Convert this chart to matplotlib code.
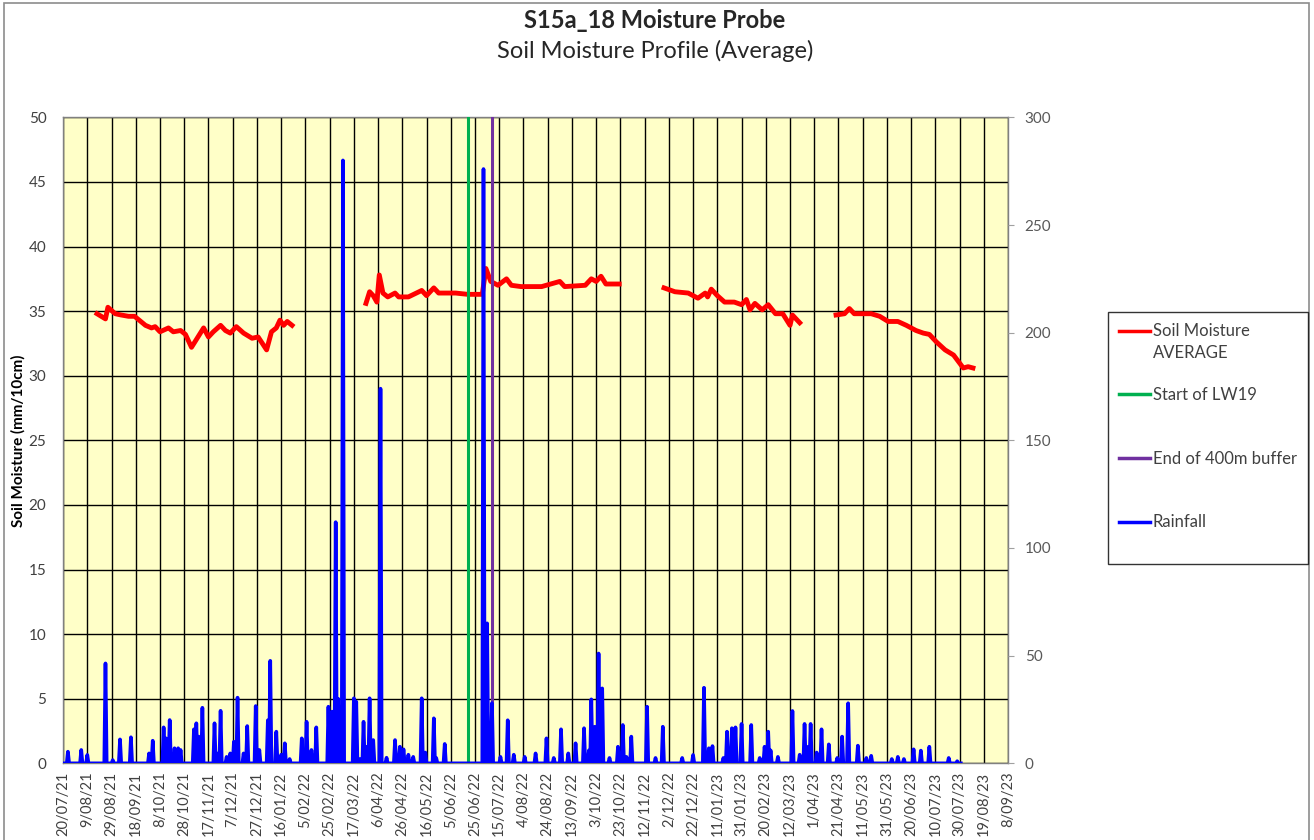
import pandas as pd
import matplotlib
matplotlib.use('Agg')
import matplotlib.pyplot as plt
from matplotlib.lines import Line2D
from matplotlib.patches import Rectangle
from matplotlib.legend_handler import HandlerLine2D
from matplotlib.transforms import Affine2D

plt.rcParams['font.family'] = ['Lato', 'DejaVu Sans']

START, END = '2021-07-20', '2023-09-08'
RAIN_END = '2023-07-31'
LW19_START = '2022-06-19'
BUFFER_END = '2022-07-09'

# soil moisture average (mm/10cm), four logging runs with gaps between
sm_dates_1 = ['2021-08-17', '2021-08-24', '2021-08-26', '2021-09-01', '2021-09-06', '2021-09-12',
              '2021-09-17', '2021-09-26', '2021-10-01', '2021-10-04', '2021-10-08', '2021-10-15',
              '2021-10-19', '2021-10-25', '2021-10-29', '2021-11-03', '2021-11-07', '2021-11-13',
              '2021-11-17', '2021-11-21', '2021-11-27', '2021-12-01', '2021-12-05', '2021-12-10',
              '2021-12-16', '2021-12-23', '2021-12-28', '2022-01-04', '2022-01-08', '2022-01-12',
              '2022-01-15', '2022-01-18', '2022-01-21', '2022-01-25']
sm_vals_1 = [34.8, 34.4, 35.3, 34.8, 34.7, 34.6, 34.6, 33.9, 33.7, 33.8, 33.4, 33.7,
             33.4, 33.5, 33.2, 32.2, 32.8, 33.7, 33.0, 33.4, 33.9, 33.5, 33.3, 33.8,
             33.3, 32.9, 33.0, 32.0, 33.4, 33.7, 34.3, 33.9, 34.2, 33.9]

sm_dates_2 = ['2022-03-27', '2022-03-30', '2022-04-02', '2022-04-05', '2022-04-07', '2022-04-10',
              '2022-04-14', '2022-04-20', '2022-04-23', '2022-05-01', '2022-05-12', '2022-05-16',
              '2022-05-22', '2022-05-26', '2022-06-09', '2022-06-19', '2022-07-01', '2022-07-04',
              '2022-07-08', '2022-07-14', '2022-07-21', '2022-07-25', '2022-08-02', '2022-08-19',
              '2022-09-03', '2022-09-07', '2022-09-24', '2022-09-29', '2022-10-03', '2022-10-07',
              '2022-10-11', '2022-10-22']
sm_vals_2 = [35.6, 36.5, 36.2, 35.7, 37.8, 36.4, 36.1, 36.4, 36.1, 36.1, 36.6, 36.2,
             36.8, 36.4, 36.4, 36.3, 36.3, 38.3, 37.3, 37.0, 37.5, 37.0, 36.9, 36.9,
             37.3, 36.9, 37.0, 37.5, 37.3, 37.7, 37.1, 37.1]

sm_dates_3 = ['2022-11-28', '2022-12-07', '2022-12-18', '2022-12-26', '2023-01-01', '2023-01-03',
              '2023-01-06', '2023-01-11', '2023-01-17', '2023-01-25', '2023-01-31', '2023-02-04',
              '2023-02-07', '2023-02-11', '2023-02-17', '2023-02-22', '2023-02-28', '2023-03-06',
              '2023-03-12', '2023-03-14', '2023-03-20']
sm_vals_3 = [36.8, 36.5, 36.4, 36.0, 36.4, 36.1, 36.7, 36.2, 35.7, 35.7, 35.5, 35.9,
             35.1, 35.6, 35.1, 35.5, 34.8, 34.8, 33.9, 34.7, 34.1]

sm_dates_4 = ['2023-04-19', '2023-04-26', '2023-04-30', '2023-05-04', '2023-05-11', '2023-05-18',
              '2023-05-25', '2023-06-01', '2023-06-09', '2023-06-16', '2023-06-24', '2023-06-30',
              '2023-07-05', '2023-07-11', '2023-07-18', '2023-07-25', '2023-07-29', '2023-08-02',
              '2023-08-06', '2023-08-10']
sm_vals_4 = [34.7, 34.8, 35.2, 34.8, 34.8, 34.8, 34.6, 34.2, 34.2, 33.9, 33.5, 33.3,
             33.2, 32.6, 32.0, 31.6, 31.1, 30.6, 30.7, 30.6]

# daily rainfall (mm), days not listed had no rain
rain_dates = ['2021-07-24', '2021-08-04', '2021-08-09', '2021-08-24', '2021-08-30', '2021-09-05',
              '2021-09-14', '2021-09-29', '2021-10-02', '2021-10-11', '2021-10-13', '2021-10-16',
              '2021-10-20', '2021-10-23', '2021-10-25', '2021-11-05', '2021-11-07', '2021-11-09',
              '2021-11-12', '2021-11-22', '2021-11-24', '2021-11-27', '2021-12-02', '2021-12-05',
              '2021-12-08', '2021-12-11', '2021-12-16', '2021-12-19', '2021-12-26', '2021-12-29',
              '2022-01-05', '2022-01-07', '2022-01-12', '2022-01-16', '2022-01-19', '2022-01-23',
              '2022-02-02', '2022-02-06', '2022-02-10', '2022-02-14', '2022-02-24', '2022-02-27',
              '2022-02-28', '2022-03-02', '2022-03-04', '2022-03-08', '2022-03-17', '2022-03-19',
              '2022-03-22', '2022-03-25', '2022-03-28', '2022-03-30', '2022-04-02', '2022-04-08',
              '2022-04-13', '2022-04-20', '2022-04-24', '2022-04-27', '2022-05-01', '2022-05-05',
              '2022-05-12', '2022-05-15', '2022-05-22', '2022-05-24', '2022-05-31', '2022-07-02',
              '2022-07-05', '2022-07-09', '2022-07-16', '2022-07-22', '2022-07-27', '2022-08-05',
              '2022-08-14', '2022-08-23', '2022-08-29', '2022-09-04', '2022-09-10', '2022-09-16',
              '2022-09-23', '2022-09-27', '2022-09-29', '2022-10-02', '2022-10-05', '2022-10-08',
              '2022-10-14', '2022-10-21', '2022-10-25', '2022-10-28', '2022-11-01', '2022-11-14',
              '2022-11-21', '2022-11-27', '2022-12-13', '2022-12-22', '2022-12-31', '2023-01-04',
              '2023-01-07', '2023-01-16', '2023-01-19', '2023-01-23', '2023-01-26', '2023-01-31',
              '2023-02-08', '2023-02-15', '2023-02-19', '2023-02-22', '2023-02-24', '2023-03-02',
              '2023-03-14', '2023-03-20', '2023-03-24', '2023-03-27', '2023-03-29', '2023-04-03',
              '2023-04-07', '2023-04-13', '2023-04-20', '2023-04-24', '2023-04-29', '2023-05-07',
              '2023-05-14', '2023-05-18', '2023-06-04', '2023-06-09', '2023-06-14', '2023-06-22',
              '2023-06-28', '2023-07-05', '2023-07-21', '2023-07-28']
rain_mm = [5.4, 6.2, 3.9, 46.4, 1.5, 11.1,
           12.1, 4.6, 10.5, 16.7, 11.6, 20.1,
           7.0, 7.0, 6.2, 15.8, 18.6, 12.4,
           25.8, 18.6, 4.6, 24.4, 3.0, 4.6,
           10.0, 30.5, 4.6, 17.3, 26.6, 6.2,
           20.0, 47.6, 14.7, 4.0, 9.3, 2.0,
           11.6, 19.3, 6.2, 16.7, 26.3, 24.0,
           20.0, 112.0, 30.0, 280.0, 30.2, 28.6,
           2.0, 19.3, 7.7, 30.2, 10.8, 174.0,
           2.6, 10.8, 7.7, 6.5, 4.0, 3.0,
           30.2, 5.0, 20.9, 2.5, 9.0, 276.0,
           65.0, 28.0, 3.0, 20.0, 4.0, 3.0,
           4.6, 11.6, 2.5, 15.8, 4.6, 9.3,
           16.3, 6.0, 29.7, 17.0, 51.0, 34.8,
           2.5, 7.7, 17.8, 3.0, 12.4, 26.3,
           2.5, 17.0, 2.5, 3.9, 35.1, 7.0,
           8.0, 2.5, 14.7, 16.3, 16.7, 18.3,
           17.8, 2.5, 7.7, 14.7, 6.0, 3.0,
           24.3, 4.0, 18.3, 7.7, 18.3, 5.0,
           15.8, 8.8, 2.5, 12.4, 27.9, 8.2,
           2.5, 3.5, 2.0, 3.0, 2.0, 6.5,
           5.9, 7.7, 2.5, 1.0]

legend_labels = ['Soil Moisture\nAVERAGE', 'Start of LW19\n ', 'End of 400m buffer\n ', 'Rainfall\n ']

RED, GREEN, PURPLE, BLUE = '#ff0000', '#00b050', '#7030a0', '#0000ff'
GREY = '#404040'
LEG_FS, LEG_LS = 12, 1.45


class FirstLineHandler(HandlerLine2D):
    # Excel puts the legend key level with the first line of a wrapped label
    def create_artists(self, legend, orig_handle, xdescent, ydescent, width, height, fontsize, trans):
        artists = super().create_artists(legend, orig_handle, xdescent, ydescent,
                                         width, height, fontsize, trans)
        lift = Affine2D().translate(0, 0.5 * fontsize * LEG_LS * 100 / 72)
        for a in artists:
            a.set_transform(trans + lift)
        return artists


rain = pd.Series(0.0, index=pd.date_range(START, RAIN_END, freq='D'))
rain[pd.to_datetime(rain_dates)] = rain_mm

fig = plt.figure(figsize=(13.14, 8.4), dpi=100)
ax = fig.add_axes([0.048, 0.0913, 0.7192, 0.769])
ax.set_facecolor('#ffffc8')

segments = [(sm_dates_1, sm_vals_1), (sm_dates_2, sm_vals_2),
            (sm_dates_3, sm_vals_3), (sm_dates_4, sm_vals_4)]
for d, v in segments:
    ax.plot(pd.to_datetime(d), v, color=RED, lw=3.5, solid_joinstyle='round', zorder=3)

ax.axvline(pd.Timestamp(LW19_START), color=GREEN, lw=2.2, zorder=3)
ax.axvline(pd.Timestamp(BUFFER_END), color=PURPLE, lw=2.2, zorder=3)

ax.set_xlim(pd.Timestamp(START), pd.Timestamp(END))
ax.set_ylim(0, 50)
ax.set_yticks(range(0, 51, 5))
ticks = pd.date_range(START, END, freq='20D')
ax.set_xticks(ticks)
ax.set_xticklabels([f"{t.day}/{t:%m/%y}" for t in ticks], rotation=90)
ax.grid(True, color='black', lw=1.0)
ax.set_axisbelow(True)
ax.tick_params(axis='y', length=0, labelsize=11, labelcolor=GREY, pad=12)
ax.tick_params(axis='x', length=0, labelsize=10.5, labelcolor=GREY, pad=6)
ax.set_ylabel('Soil Moisture (mm/10cm)', fontsize=11, fontweight='bold', labelpad=2)
for s in ax.spines.values():
    s.set_color('#808080')
    s.set_linewidth(1)

ax2 = ax.twinx()
ax2.plot(rain.index, rain.values, color=BLUE, lw=2.6, zorder=4)
ax2.set_ylim(0, 300)
ax2.set_yticks(range(0, 301, 50))
ax2.tick_params(axis='y', length=4, color='#a0a0a0', labelsize=11, labelcolor='#595959', pad=8)
for s in ax2.spines.values():
    s.set_visible(False)

fig.text(0.4985, 0.975, 'S15a_18 Moisture Probe', ha='center', va='center',
         fontsize=17, fontweight='bold', color='#262626')
fig.text(0.4985, 0.939, 'Soil Moisture Profile (Average)', ha='center', va='center',
         fontsize=17, color='#262626')

handles = [Line2D([], [], color=c, lw=2.5) for c in (RED, GREEN, PURPLE, BLUE)]
leg = fig.legend(handles, legend_labels, loc='upper left', bbox_to_anchor=(0.843, 0.629),
                 fontsize=LEG_FS, frameon=True, fancybox=False, edgecolor='black',
                 labelspacing=1.55, handlelength=1.85, handletextpad=0.15, borderpad=0.7,
                 borderaxespad=0, handler_map={Line2D: FirstLineHandler()})
leg.get_frame().set_linewidth(1.0)
for t in leg.get_texts():
    t.set_color(GREY)
    t.set_linespacing(LEG_LS)

fig.patches.append(Rectangle((0.003, -0.01), 0.993, 1.007, transform=fig.transFigure,
                             fill=False, edgecolor='#8c8c8c', lw=1.2))

fig.savefig('out.png', dpi=100)
